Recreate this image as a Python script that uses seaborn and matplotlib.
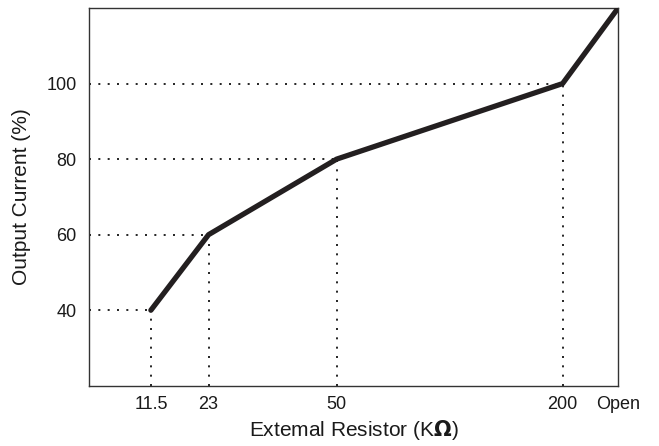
import matplotlib
matplotlib.use("Agg")
import matplotlib.pyplot as plt
import seaborn as sns
import pandas as pd

sns.set_style("white")
plt.rcParams['font.family'] = ['Liberation Sans', 'DejaVu Sans']
plt.rcParams['text.color'] = '#1a1a1a'
plt.rcParams['axes.labelcolor'] = '#1a1a1a'
plt.rcParams['xtick.color'] = '#1a1a1a'
plt.rcParams['ytick.color'] = '#1a1a1a'

# data
resistor_labels = ['11.5', '23', '50', '200', 'Open']
output_current = [40, 60, 80, 100, 120]
# horizontal slot of each label on the (non-linear) resistor axis, 0-100
x_slot = [11.7, 22.6, 46.8, 89.5, 100]

df = pd.DataFrame({'slot': x_slot, 'current': output_current, 'label': resistor_labels})

fig, ax = plt.subplots(figsize=(6.59, 4.46), dpi=100)
fig.subplots_adjust(left=0.135, right=0.938, top=0.982, bottom=0.135)

# dotted guides for each point except "Open"
dots = (0, (1.2, 4.4))
for _, row in df.iloc[:-1].iterrows():
    ax.plot([0, row['slot']], [row['current'], row['current']], color='black',
            linestyle=dots, linewidth=1.2, zorder=1)
    ax.plot([row['slot'], row['slot']], [20, row['current']], color='black',
            linestyle=dots, linewidth=1.2, zorder=1)

sns.lineplot(data=df, x='slot', y='current', color='#231f20', linewidth=3.8,
             ax=ax, zorder=3, solid_capstyle='round')

ax.set_xlim(0, 100)
ax.set_ylim(20, 120)
ax.set_xticks(x_slot)
ax.set_xticklabels(resistor_labels)
ax.set_yticks([40, 60, 80, 100])
ax.tick_params(axis='x', length=0, labelsize=13, pad=7)
ax.tick_params(axis='y', length=0, labelsize=13, pad=9)
ax.set_xlabel('Extemal Resistor (K$\\mathbf{\\Omega}$)', fontsize=15, labelpad=4)
ax.set_ylabel('Output Current (%)', fontsize=15, labelpad=11)

for s in ax.spines.values():
    s.set_color('#333333')
    s.set_linewidth(1.0)

plt.savefig('out.png', dpi=100)
